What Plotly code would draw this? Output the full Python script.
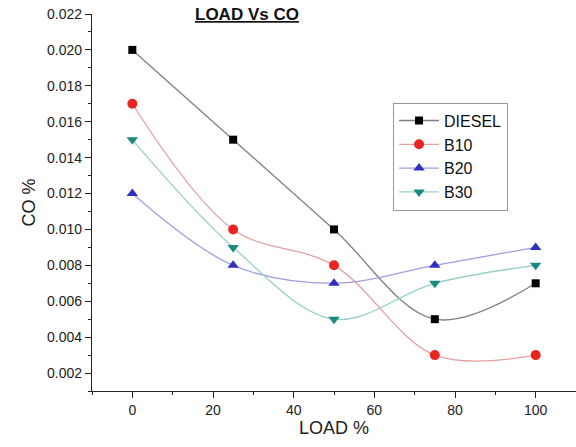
import plotly.graph_objects as go

load = [0, 25, 50, 75, 100]
diesel = [0.020, 0.015, 0.010, 0.005, 0.007]
b10 = [0.017, 0.010, 0.008, 0.003, 0.003]
b20 = [0.012, 0.008, 0.007, 0.008, 0.009]
b30 = [0.015, 0.009, 0.005, 0.007, 0.008]

series = [
    ("DIESEL", diesel, "#000000", "#808080", "square", 8),
    ("B10", b10, "#e8261f", "#e3a0a0", "circle", 10),
    ("B20", b20, "#3030c0", "#a0a0e0", "triangle-up", 10),
    ("B30", b30, "#1a8a80", "#98cec8", "triangle-down", 10),
]

fig = go.Figure()
for name, vals, mc, lc, sym, sz in series:
    fig.add_trace(go.Scatter(
        x=load, y=vals, name=name, mode="lines+markers",
        line=dict(color=lc, width=1.3, shape="spline", smoothing=1.0),
        marker=dict(color=mc, symbol=sym, size=sz),
    ))

axis_font = dict(family="Arial, Liberation Sans, sans-serif", size=14, color="#222")
fig.update_layout(
    width=576, height=447,
    margin=dict(l=92, r=0, t=14, b=56),
    paper_bgcolor="white", plot_bgcolor="white",
    font=dict(family="Arial, Liberation Sans, sans-serif", color="#222"),
    showlegend=True,
    legend=dict(x=0.622, y=0.765, xanchor="left", yanchor="top",
                bordercolor="#999", borderwidth=1, bgcolor="white",
                font=dict(size=16, color="#111"), tracegroupgap=0,
                itemwidth=40),
    xaxis=dict(range=[-10, 110], tickvals=[0, 20, 40, 60, 80, 100],
               showgrid=False, zeroline=False, showline=True, linecolor="#222",
               linewidth=1.2, ticks="outside", ticklen=6, tickcolor="#222",
               minor=dict(tickvals=[-10, 10, 30, 50, 70, 90, 110], ticks="outside", ticklen=3, tickcolor="#222"),
               tickfont=axis_font,
               title=dict(text="LOAD %", font=dict(size=18, color="#222"), standoff=4)),
    yaxis=dict(range=[0.001, 0.022],
               tickvals=[0.002, 0.004, 0.006, 0.008, 0.010, 0.012, 0.014, 0.016, 0.018, 0.020, 0.022],
               tickformat=".3f",
               showgrid=False, zeroline=False, showline=True, linecolor="#222",
               linewidth=1.2, ticks="outside", ticklen=6, tickcolor="#222",
               minor=dict(tickvals=[0.001, 0.003, 0.005, 0.007, 0.009, 0.011, 0.013, 0.015, 0.017, 0.019, 0.021],
                          ticks="outside", ticklen=3, tickcolor="#222"),
               tickfont=axis_font,
               title=dict(text="CO %", font=dict(size=18, color="#222"), standoff=6)),
    annotations=[dict(text="<b><u>LOAD Vs CO</u></b>", xref="paper", yref="paper",
                      x=0.32, y=1.0, xanchor="center", yanchor="middle", showarrow=False,
                      font=dict(size=17, color="#111"))],
)

fig.write_html("out.html")
